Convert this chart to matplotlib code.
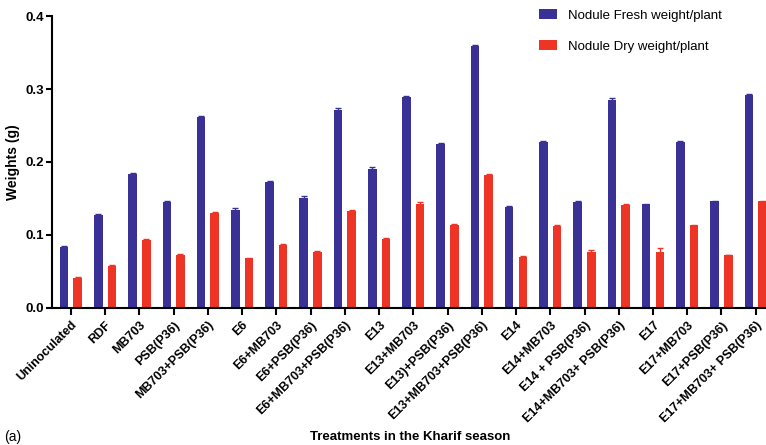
import numpy as np
import matplotlib.pyplot as plt

plt.rcParams['font.family'] = 'Liberation Sans'

# Treatments and nodule weights (g)
treatments = ['Uninoculated', 'RDF', 'MB703', 'PSB(P36)', 'MB703+PSB(P36)', 'E6',
              'E6+MB703', 'E6+PSB(P36)', 'E6+MB703+PSB(P36)', 'E13', 'E13+MB703',
              'E13)+PSB(P36)', 'E13+MB703+PSB(P36)', 'E14', 'E14+MB703',
              'E14 + PSB(P36)', 'E14+MB703+ PSB(P36)', 'E17', 'E17+MB703',
              'E17+PSB(P36)', 'E17+MB703+ PSB(P36)']
fresh = [0.083, 0.127, 0.183, 0.145, 0.261, 0.134, 0.172, 0.151, 0.271, 0.191, 0.289,
         0.225, 0.359, 0.138, 0.228, 0.145, 0.285, 0.142, 0.227, 0.146, 0.292]
fresh_err = [0.002, 0.002, 0.002, 0.002, 0.002, 0.003, 0.002, 0.003, 0.003, 0.002, 0.002,
             0.001, 0.001, 0.001, 0.001, 0.002, 0.002, 0.001, 0.002, 0.001, 0.001]
dry = [0.041, 0.058, 0.093, 0.072, 0.130, 0.068, 0.086, 0.076, 0.133, 0.095, 0.143,
       0.114, 0.182, 0.070, 0.112, 0.076, 0.141, 0.077, 0.113, 0.072, 0.146]
dry_err = [0.001, 0.001, 0.002, 0.002, 0.001, 0.001, 0.001, 0.002, 0.001, 0.001, 0.002,
           0.001, 0.001, 0.001, 0.001, 0.004, 0.002, 0.005, 0.001, 0.0, 0.001]

blue = '#3a3196'
red = '#ee3424'

x = np.arange(len(treatments))
w = 0.25

fig = plt.figure(figsize=(7.66, 4.45), dpi=100)
ax = fig.add_axes([0.068, 0.308, 0.932, 0.656])

ax.bar(x - 0.2, fresh, w, color=blue, yerr=fresh_err, ecolor=blue,
       error_kw=dict(capsize=2, elinewidth=1, capthick=1),
       label='Nodule Fresh weight/plant')
ax.bar(x + 0.2, dry, w, color=red, yerr=dry_err, ecolor=red,
       error_kw=dict(capsize=2, elinewidth=1, capthick=1),
       label='Nodule Dry weight/plant')

ax.set_xlim(-0.55, 20.3)
ax.set_ylim(0, 0.4)
ax.set_yticks([0.0, 0.1, 0.2, 0.3, 0.4])
ax.set_yticklabels(['0.0', '0.1', '0.2', '0.3', '0.4'], fontweight='bold', fontsize=9.5)
ax.set_xticks(x)
ax.set_xticklabels(treatments, rotation=45, ha='right', rotation_mode='anchor',
                   fontweight='bold', fontsize=9)

for s in ['top', 'right']:
    ax.spines[s].set_visible(False)
for s in ['left', 'bottom']:
    ax.spines[s].set_linewidth(1.5)
ax.tick_params(axis='x', width=1.5, length=5, pad=3)
ax.tick_params(axis='y', width=1.5, length=4, pad=1.5)

ax.set_ylabel('Weights (g)', fontweight='bold', fontsize=10)
ax.yaxis.set_label_coords(-0.045, 0.5)
fig.text(0.535, 0.012, 'Treatments in the Kharif season', ha='center',
         fontweight='bold', fontsize=9.5)
fig.text(0.006, 0.01, '(a)', fontsize=10)

ax.legend(loc='upper left', bbox_to_anchor=(0.665, 1.065), frameon=False,
          fontsize=9.5, handlelength=1.4, handleheight=0.8, labelspacing=1.4,
          handletextpad=0.8)

fig.savefig('out.png', dpi=100)
